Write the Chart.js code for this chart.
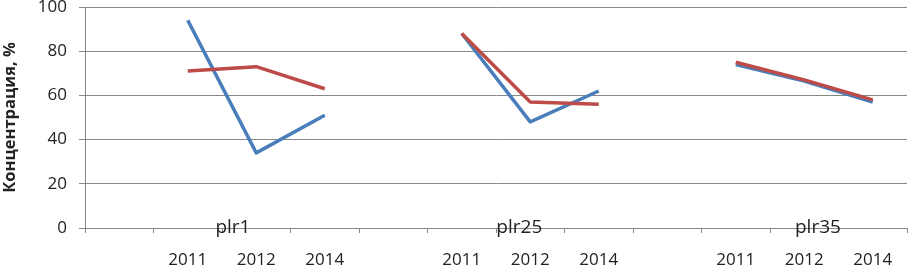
<!DOCTYPE html>
<html lang="ru">
<head>
  <meta charset="UTF-8">
  <title>Концентрация</title>
  <script src="https://cdn.jsdelivr.net/npm/chart.js"></script>
  <style>
    html, body { margin: 0; padding: 0; background: #fff; }
    #wrap { width: 908px; height: 268px; }
  </style>
</head>
<body>
<div id="wrap"><canvas id="chart"></canvas></div>
<script>
  // категории: пустой слот перед каждой группой, как в исходнике
  const years = ['', '2011', '2012', '2014', '', '2011', '2012', '2014', '', '2011', '2012', '2014'];
  const groups = ['plr1', 'plr25', 'plr35'];
  const groupPos = [1.66, 5.84, 10.2]; // где стоят подписи групп (индекс категории)
  const seriesBlue = [null, 94, 34, 51, null, 88, 48, 62, null, 74, 66.5, 57];
  const seriesRed = [null, 71, 73, 63, null, 88, 57, 56, null, 75, 67, 58];

  const gridColor = '#878787';
  const textColor = '#222';
  const font = 'Open Sans';

  const groupLabels = {
    id: 'groupLabels',
    afterDraw(chart) {
      const ctx = chart.ctx;
      const x = chart.scales.x;
      ctx.save();
      ctx.font = '19px "' + font + '"';
      ctx.fillStyle = textColor;
      ctx.textAlign = 'center';
      ctx.textBaseline = 'alphabetic';
      groups.forEach((g, i) => {
        ctx.fillText(g, x.getPixelForValue(groupPos[i]), chart.chartArea.bottom + 5);
      });
      ctx.restore();
    }
  };

  new Chart(document.getElementById('chart'), {
    type: 'line',
    data: {
      labels: years,
      datasets: [
        {
          data: seriesRed,
          borderColor: '#be4b48',
          borderWidth: 3.5,
          pointRadius: 0,
          order: 0
        },
        {
          data: seriesBlue,
          borderColor: '#4a7ebb',
          borderWidth: 3.5,
          pointRadius: 0,
          order: 1
        }
      ]
    },
    options: {
      responsive: true,
      maintainAspectRatio: false,
      animation: false,
      spanGaps: false,
      layout: { padding: { top: 7, right: 1, left: 0, bottom: 0 } },
      elements: { line: { tension: 0, borderJoinStyle: 'round', borderCapStyle: 'butt' } },
      plugins: {
        legend: { display: false },
        tooltip: { enabled: false }
      },
      scales: {
        x: {
          offset: true,
          afterFit(s) { s.height = 40; s.paddingLeft = 0; s.paddingRight = 0; },
          border: { color: gridColor, width: 1 },
          grid: { offset: true, drawOnChartArea: false, color: gridColor, tickLength: 5 },
          ticks: {
            autoSkip: false,
            maxRotation: 0,
            padding: 17,
            color: textColor,
            font: { family: font, size: 17 }
          }
        },
        y: {
          min: 0,
          max: 100,
          afterFit(s) { s.width = 85; s.paddingTop = 0; s.paddingBottom = 0; },
          border: { color: gridColor, width: 1 },
          grid: { color: gridColor, tickLength: 6 },
          ticks: {
            stepSize: 20,
            padding: 12,
            color: textColor,
            font: { family: font, size: 17 }
          },
          title: {
            display: true,
            text: 'Концентрация, %',
            color: textColor,
            padding: 0,
            font: { family: font, size: 16.5, weight: 'bold' }
          }
        }
      }
    },
    plugins: [groupLabels]
  });
</script>
</body>
</html>
